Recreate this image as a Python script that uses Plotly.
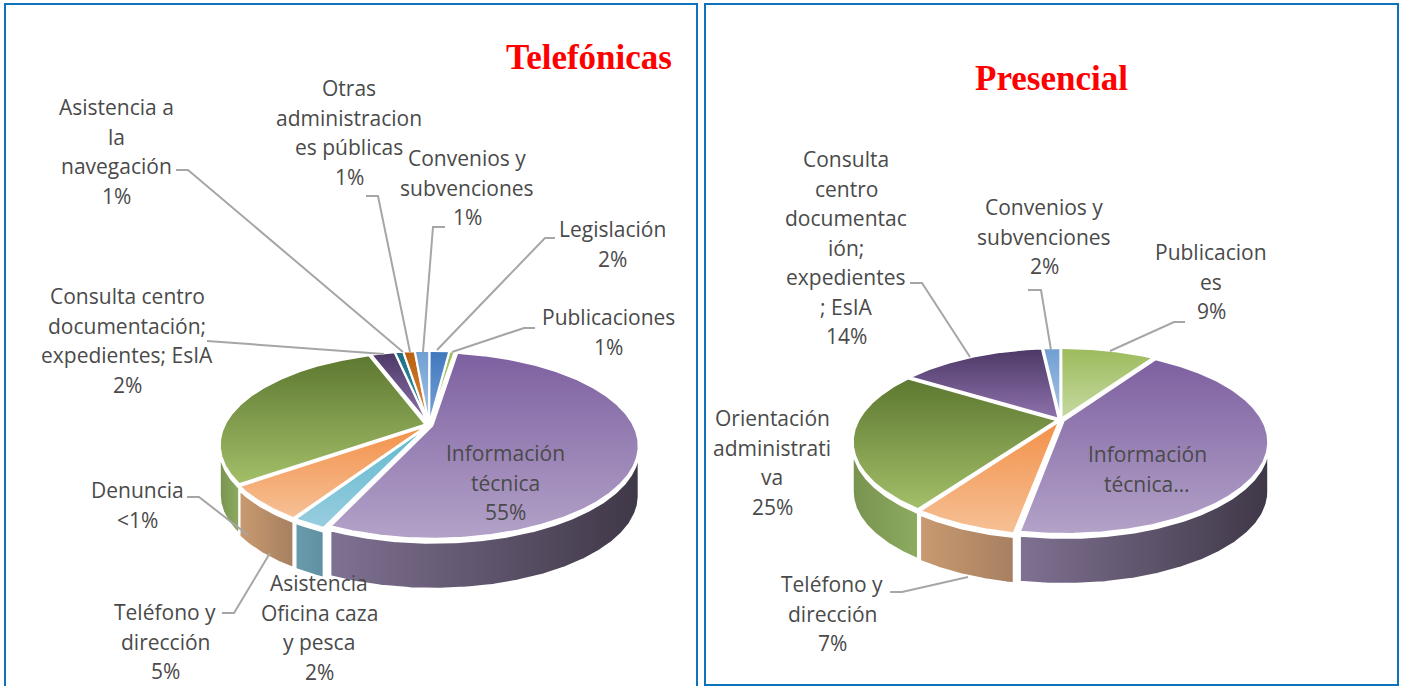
import numpy as np
import plotly.graph_objects as go

# ---------- data ----------
tel_categories = ["Publicaciones", "Información técnica", "Asistencia Oficina caza y pesca", "Denuncia",
                  "Teléfono y dirección", "Orientación administrativa", "Consulta centro documentación; expedientes; EsIA",
                  "Asistencia a la navegación", "Otras administraciones públicas", "Convenios y subvenciones", "Legislación"]
tel_values = [0.5, 54.3, 2.2, 0.1, 5.95, 29.45, 2.3, 0.8, 1.1, 1.4, 1.9]
pre_categories = ["Publicaciones", "Información técnica", "Teléfono y dirección", "Orientación administrativa",
                  "Consulta centro documentación; expedientes; EsIA", "Convenios y subvenciones"]
pre_values = [9.3, 43.5, 6.75, 24.45, 14.3, 1.7]

# ---------- styles: (top dark, top light, wall left, wall right) ----------
STYLE = {
    "Publicaciones": ("#9cbb5b", "#c6d9a2", "#9ab45c", "#8ca454"),
    "Información técnica": ("#7d60a0", "#b3a2c8", "#7f7192", "#3f3847"),
    "Asistencia Oficina caza y pesca": ("#5fb8cf", "#98cddf", "#6a9cae", "#5f90a2"),
    "Denuncia": ("#c0504d", "#d98a88", "#a04a48", "#a04a48"),
    "Teléfono y dirección": ("#f3914a", "#f6c095", "#c99a70", "#a68061"),
    "Orientación administrativa": ("#5d7830", "#a3bf69", "#78934f", "#8dab60"),
    "Consulta centro documentación; expedientes; EsIA": ("#4c3866", "#8e72ac", "#4c3866", "#4c3866"),
    "Asistencia a la navegación": ("#1d6e85", "#3d99ae", "#1d6e85", "#1d6e85"),
    "Otras administraciones públicas": ("#b85f10", "#e08a3a", "#b85f10", "#b85f10"),
    "Convenios y subvenciones": ("#6f9fd3", "#a8c4e4", "#6f9fd3", "#6f9fd3"),
    "Legislación": ("#3f78bd", "#7ba3d8", "#3f78bd", "#3f78bd"),
}
TEXT = "#4a4a4a"
LEADER = "#a6a6a6"
FRAME = "#0f72bd"
FONT = "Open Sans"
FS = 21
LINE = 29.5

# ---------- geometry of each perspective disc ----------
TEL = dict(cx=429, ay=425, c=201, a=88.7, k=0.215, depth=50, gap=4, start=7, explode=0.018)
PRE = dict(cx=1060.5, ay=420, c=198.5, a=87.2, k=0.228, depth=50, gap=4, start=0, explode=0.018)


def project(g, u, v):
    d = 1 + g["k"] * v
    return g["cx"] + g["c"] * u / d, g["ay"] - g["a"] * v / d


def add_pie(fig, g, cats, vals):
    total = sum(vals)
    edges = g["start"] + np.concatenate([[0], np.cumsum(vals)]) * 360 / total
    right = np.degrees(np.arccos(-g["k"]))
    left = 360 - right
    walls, faces = [], []
    for cat, t1, t2 in zip(cats, edges[:-1], edges[1:]):
        top_c, low_c, wl, wr = STYLE[cat]
        tm = np.radians((t1 + t2) / 2)
        ou, ov = g["explode"] * np.sin(tm), g["explode"] * np.cos(tm)
        ts = np.radians(np.linspace(t1, t2, max(4, int(t2 - t1) * 2)))
        ax, ay = project(g, ou, ov)
        ex, ey = project(g, ou + np.sin(ts), ov + np.cos(ts))
        x = np.r_[ax, ex, ax]
        y = np.r_[ay, ey, ay]
        faces.append(go.Scatter(x=x, y=y, mode="lines", fill="toself", name=cat, hoverinfo="name",
                                line=dict(color="white", width=2),
                                fillgradient=dict(type="vertical", start=float(y.min()), stop=float(y.max()),
                                                  colorscale=[[0, top_c], [1, low_c]]),
                                showlegend=False))
        w1, w2 = max(t1, right), min(t2, left)
        if w2 > w1:
            ws = np.radians(np.linspace(w1, w2, max(4, int(w2 - w1) * 2)))
            bx, by = project(g, ou + np.sin(ws), ov + np.cos(ws))
            xw = np.r_[bx, bx[::-1], bx[0]]
            yw = np.r_[by + g["gap"], by[::-1] + g["depth"], by[0] + g["gap"]]
            walls.append(go.Scatter(x=xw, y=yw, mode="lines", fill="toself", name=cat, hoverinfo="name",
                                    line=dict(color="white", width=2),
                                    fillgradient=dict(type="horizontal", start=float(xw.min()), stop=float(xw.max()),
                                                      colorscale=[[0, wl], [1, wr]]),
                                    showlegend=False))
    fig.add_traces(walls + faces)


def add_leaders(fig, leaders):
    for pts in leaders:
        fig.add_trace(go.Scatter(x=[p[0] for p in pts], y=[p[1] for p in pts], mode="lines",
                                 line=dict(color=LEADER, width=2), hoverinfo="skip", showlegend=False))


def add_label(fig, text, x, y):
    for i, ln in enumerate(text.split("\n")):
        fig.add_annotation(x=x, y=y + i * LINE, text=ln, showarrow=False, xanchor="center", yanchor="middle",
                           font=dict(family=FONT, size=FS, color=TEXT))


fig = go.Figure()
fig.add_shape(type="rect", x0=5, x1=697, y0=4, y1=700, line=dict(color=FRAME, width=2), layer="below")
fig.add_shape(type="rect", x0=705, x1=1398, y0=4, y1=685, line=dict(color=FRAME, width=2), layer="below")

add_pie(fig, TEL, tel_categories, tel_values)
add_pie(fig, PRE, pre_categories, pre_values)

add_leaders(fig, [
    [(176, 170), (188, 170), (403, 352)],
    [(366, 196), (378, 196), (410, 352)],
    [(445, 227), (433, 227), (423, 352)],
    [(555, 238), (545, 238), (437, 350)],
    [(535, 328), (524, 328), (452, 352)],
    [(207, 341), (384, 354)],
    [(187, 497), (199, 497), (248, 535)],
    [(222, 613), (234, 613), (270, 553)],
    [(910, 283), (922, 283), (970, 357)],
    [(1028, 290), (1041, 290), (1051, 350)],
    [(1185, 322), (1174, 322), (1110, 351)],
    [(890, 592), (902, 592), (968, 577)],
])

tel_labels = [
    ("Asistencia a\nla\nnavegación\n1%", 116, 107),
    ("Otras\nadministracion\nes públicas\n1%", 349, 88),
    ("Convenios y\nsubvenciones\n1%", 467, 158),
    ("Legislación\n2%", 612, 229),
    ("Publicaciones\n1%", 608, 317),
    ("Consulta centro\ndocumentación;\nexpedientes; EsIA\n2%", 127, 296),
    ("Denuncia\n<1%", 137, 490),
    ("Teléfono y\ndirección\n5%", 165, 612),
    ("Asistencia\nOficina caza\ny pesca\n2%", 319, 583),
    ("Información\ntécnica\n55%", 505, 453),
]
pre_labels = [
    ("Consulta\ncentro\ndocumentac\nión;\nexpedientes\n; EsIA\n14%", 846, 159),
    ("Convenios y\nsubvenciones\n2%", 1044, 207),
    ("Publicacion\nes\n9%", 1211, 252),
    ("Orientación\nadministrati\nva\n25%", 772, 418),
    ("Teléfono y\ndirección\n7%", 832, 584),
    ("Información\ntécnica…", 1147, 454),
]
for t, x, y in tel_labels + pre_labels:
    add_label(fig, t, x, y)

for t, x, y in (("Telefónicas", 588.5, 57), ("Presencial", 1051, 78)):
    fig.add_annotation(x=x, y=y, text=f"<b>{t}</b>", showarrow=False, xanchor="center", yanchor="middle",
                       font=dict(family="Liberation Serif", size=35, color="#ff0000"))

fig.update_layout(width=1402, height=686, margin=dict(l=0, r=0, t=0, b=0), paper_bgcolor="white",
                  plot_bgcolor="white", showlegend=False,
                  xaxis=dict(range=[0, 1402], visible=False, fixedrange=True),
                  yaxis=dict(range=[686, 0], visible=False, fixedrange=True))
fig.write_html("out.html", post_script="document.body.style.margin='0';document.body.style.overflow='hidden';",
               config={"displayModeBar": False})
